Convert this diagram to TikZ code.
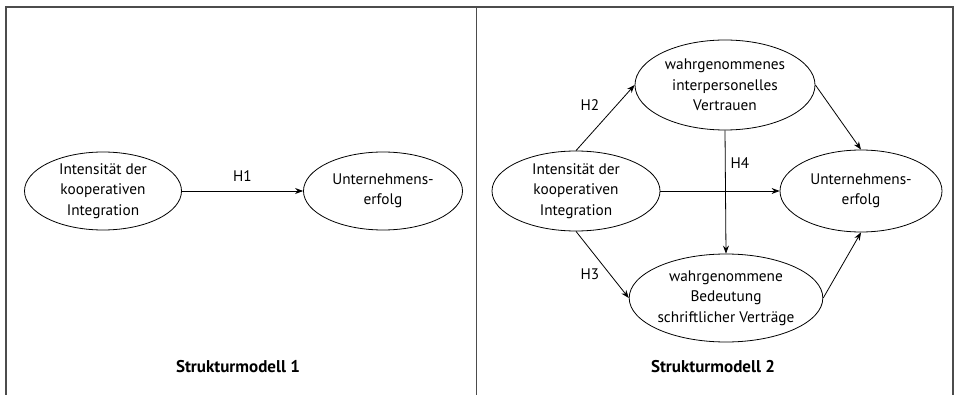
\documentclass[tikz,border=0pt]{standalone}
\usepackage{fontspec}
\setmainfont{PT Sans}
\usetikzlibrary{shapes.geometric,arrows.meta}
\begin{document}
\begin{tikzpicture}[x=1pt,y=-1pt,
  construct/.style={draw,ellipse,line width=0.8pt,inner sep=0pt,align=center,
    font=\fontsize{15.3}{20.5}\selectfont},
  conn/.style={line width=0.8pt,-{Stealth[length=8pt,width=6pt]}},
  lbl/.style={font=\fontsize{15.3}{18}\selectfont},
  frame/.style={draw=black!70,line width=1.6pt},
  ttl/.style={font=\fontsize{17}{20}\selectfont\bfseries}]
\useasboundingbox (0,0) rectangle (960,395);
% frame
\draw[frame] (6,395) -- (6,7) -- (953,7) -- (953,395);
\draw[draw=black!70,line width=1pt] (476,7) -- (476,395);
% left panel
\node[construct,minimum width=157pt,minimum height=78pt] (i1) at (103,191) {Intensität der\\kooperativen\\Integration};
\node[construct,minimum width=159pt,minimum height=78pt] (u1) at (383,191) {Unternehmens-\\erfolg};
\draw[conn] (i1) -- (u1) node[lbl,midway,above=6pt] (h1) {H1};
\node[ttl] (t1) at (238,367) {Strukturmodell 1};
% right panel
\node[construct,minimum width=168pt,minimum height=80pt] (i2) at (576,191) {Intensität der\\kooperativen\\Integration};
\node[construct,minimum width=180pt,minimum height=90pt] (v) at (725,85) {wahrgenommenes\\interpersonelles\\Vertrauen};
\node[construct,minimum width=182pt,minimum height=88pt] (b) at (726,298) {wahrgenommene\\Bedeutung\\schriftlicher Verträge};
\node[construct,minimum width=162pt,minimum height=82pt] (u2) at (861,191) {Unternehmens-\\erfolg};
\draw[conn] (i2.north) -- (v.west);
\draw[conn] (i2.south) -- (b.west);
\draw[conn] (i2.east) -- (u2.west);
\draw[conn] (v.south) -- (b.north);
\draw[conn] (v.east) -- (u2.north);
\draw[conn] (b.east) -- (u2.south);
\node[lbl] (h2) at (590,105) {H2};
\node[lbl] (h3) at (590,274) {H3};
\node[lbl] (h4) at (740,163) {H4};
\node[ttl] (t2) at (713,367) {Strukturmodell 2};
\end{tikzpicture}
\end{document}
